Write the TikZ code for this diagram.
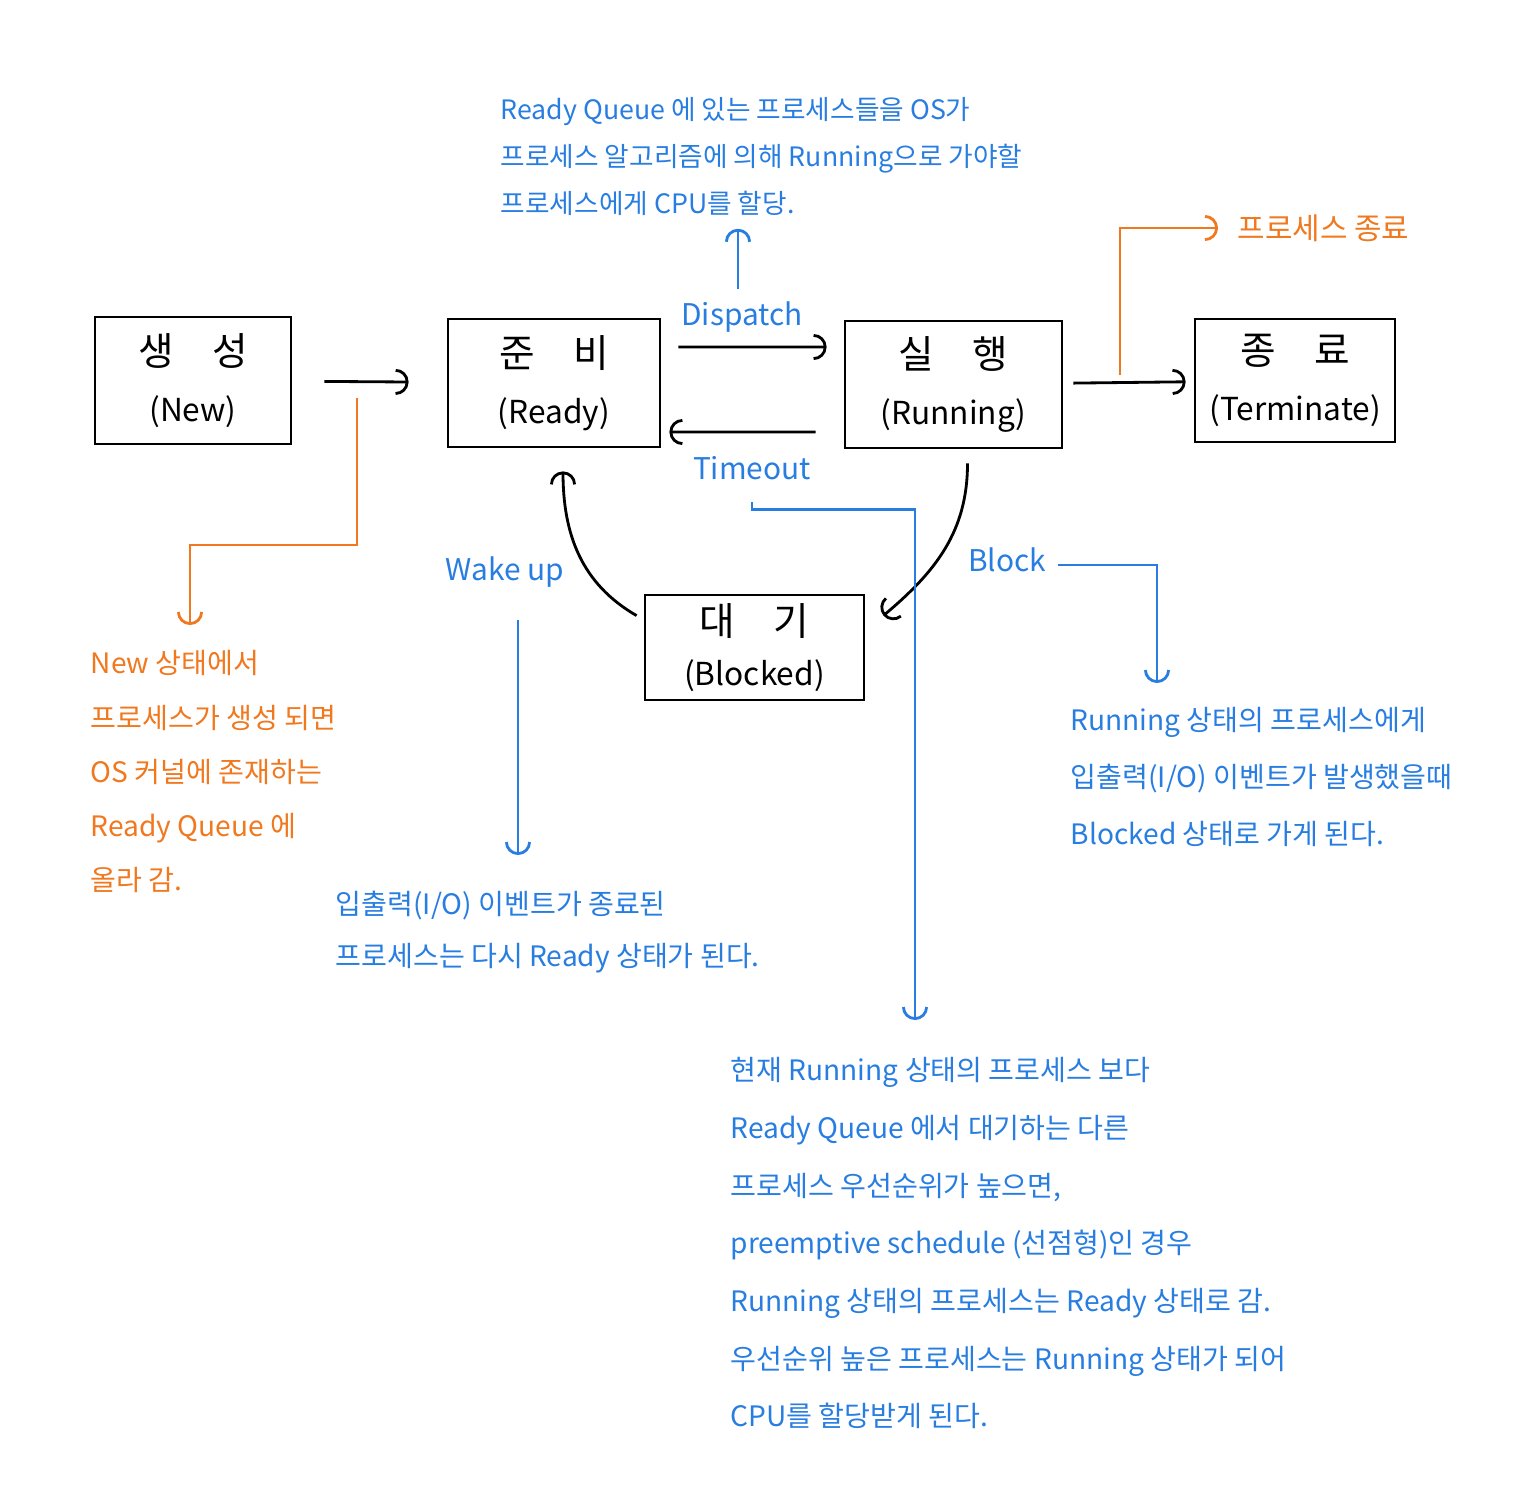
\documentclass[tikz,border=0pt]{standalone}
\usepackage{fontspec}
\usepackage{tikz}
\usetikzlibrary{arrows.meta}
\usetikzlibrary{positioning}
\newfontfamily\kr{Noto Sans CJK KR}
\definecolor{penblue}{RGB}{40,125,225}
\definecolor{penorange}{RGB}{240,120,30}
\tikzset{state/.style = {draw, thick, align = center, inner sep = 0, font = \kr\fontsize{9}{16}\selectfont}}
\tikzset{note/.style = {anchor = north west, align = left, inner sep = 0, text = penblue, font = \kr\fontsize{8}{16.4}\selectfont}}
\tikzset{lbl/.style = {text = penblue, font = \kr\fontsize{8.5}{11}\selectfont}}
\tikzset{arr/.style = {thick, -{Arc Barb[length = 1.3mm, width = 2.6mm]}}}
\newcommand{\kbig}[1]{{\fontsize{11}{16}\selectfont #1}}

\begin{document}
\begin{tikzpicture}
      \useasboundingbox (0, 0) rectangle (15.36, -14.86);

      \node [state, minimum width = 1.96cm, minimum height = 1.27cm] (new) at (1.93, -3.805) {\kbig{생\quad 성}\\(New)};
      \node [state, minimum width = 2.12cm, minimum height = 1.28cm] (ready) at (5.54, -3.83) {\kbig{준\quad 비}\\(Ready)};
      \node [state, minimum width = 2.17cm, minimum height = 1.27cm] (running) at (9.535, -3.845) {\kbig{실\quad 행}\\(Running)};
      \node [state, minimum width = 2.00cm, minimum height = 1.23cm] (terminate) at (12.95, -3.805) {\kbig{종\quad 료}\\(Terminate)};
      \node [state, minimum width = 2.19cm, minimum height = 1.05cm, font = \kr\fontsize{9}{14}\selectfont] (blocked) at (7.545, -6.475) {\kbig{대\quad 기}\\(Blocked)};

      \node [lbl] (dispatch) at (7.42, -3.17) {Dispatch};
      \node [lbl] (timeout) at (7.52, -4.68) {Timeout};
      \node [lbl] (block) at (10.07, -5.60) {Block};
      \node [lbl] (wakeup) at (5.05, -5.72) {Wake up};

      \node [note, font = \kr\fontsize{7.6}{13.4}\selectfont] (toptxt) at (5.00, -0.97) {Ready Queue 에 있는 프로세스들을 OS가\\프로세스 알고리즘에 의해 Running으로 가야할\\프로세스에게 CPU를 할당.};
      \node [note, anchor = west, text = penorange, font = \kr\fontsize{8.5}{11}\selectfont] (endtxt) at (12.37, -2.28) {프로세스 종료};
      \node [note, text = penorange, font = \kr\fontsize{8}{15.4}\selectfont] (newtxt) at (0.90, -6.50) {New 상태에서\\프로세스가 생성 되면\\OS 커널에 존재하는\\Ready Queue 에\\올라 감.};
      \node [note, font = \kr\fontsize{8}{14.8}\selectfont] (wktxt) at (3.35, -8.90) {입출력(I/O) 이벤트가 종료된\\프로세스는 다시 Ready 상태가 된다.};
      \node [note, font = \kr\fontsize{8}{16.2}\selectfont] (bktxt) at (10.70, -7.07) {Running 상태의 프로세스에게\\입출력(I/O) 이벤트가 발생했을때\\Blocked 상태로 가게 된다.};
      \node [note] (tmtxt) at (7.30, -10.57) {현재 Running 상태의 프로세스 보다\\Ready Queue 에서 대기하는 다른\\프로세스 우선순위가 높으면,\\preemptive schedule (선점형)인 경우\\Running 상태의 프로세스는 Ready 상태로 감.\\우선순위 높은 프로세스는 Running 상태가 되어\\CPU를 할당받게 된다.};

      \coordinate (nwsplit) at (3.57, -3.98);
      \coordinate (nwend) at (1.90, -6.25);
      \coordinate (tmsplit) at (11.20, -3.75);
      \coordinate (tmend) at (9.15, -10.20);
      \coordinate (bkend) at (11.57, -6.83);
      \coordinate (wkend) at (5.18, -8.55);

      \draw [arr, shorten <= 0.32cm, shorten >= 0.38cm] (new) -- (ready);
      \draw [arr, shorten <= 0.17cm, shorten >= 0.17cm] ([yshift = 0.36cm]ready.east) -- ([yshift = 0.375cm]running.west);
      \draw [arr, shorten <= 0.28cm, shorten >= 0.08cm] ([yshift = -0.475cm]running.west) -- ([yshift = -0.49cm]ready.east);
      \draw [arr, shorten <= 0.10cm, shorten >= 0.08cm] (running) -- (terminate);
      \draw [arr] ([xshift = 0.14cm, yshift = -0.14cm]running.south) to [out = -90, in = 40] ([xshift = 0.18cm, yshift = -0.22cm]blocked.north east);
      \draw [arr] ([xshift = -0.07cm, yshift = -0.22cm]blocked.north west) to [out = 150, in = -90] ([xshift = 0.09cm, yshift = -0.23cm]ready.south);

      \draw [arr, penorange] (nwsplit) -- ++(0, -1.47) -| (nwend);
      \draw [arr, penorange, shorten >= 0.19cm] (tmsplit) |- (endtxt);
      \draw [arr, penblue, shorten >= 0.12cm] ([xshift = -0.04cm]dispatch.north) -- ([xshift = -0.04cm]dispatch.north |- toptxt.south);
      \draw [arr, penblue, shorten <= 0.1cm] (timeout.south) -- ++(0, -0.17) -| (tmend);
      \draw [arr, penblue] ([yshift = -0.05cm]block.east) -| (bkend);
      \draw [arr, penblue, shorten <= 0.2cm] (wakeup.south -| wkend) -- (wkend);
    \end{tikzpicture}
\end{document}
